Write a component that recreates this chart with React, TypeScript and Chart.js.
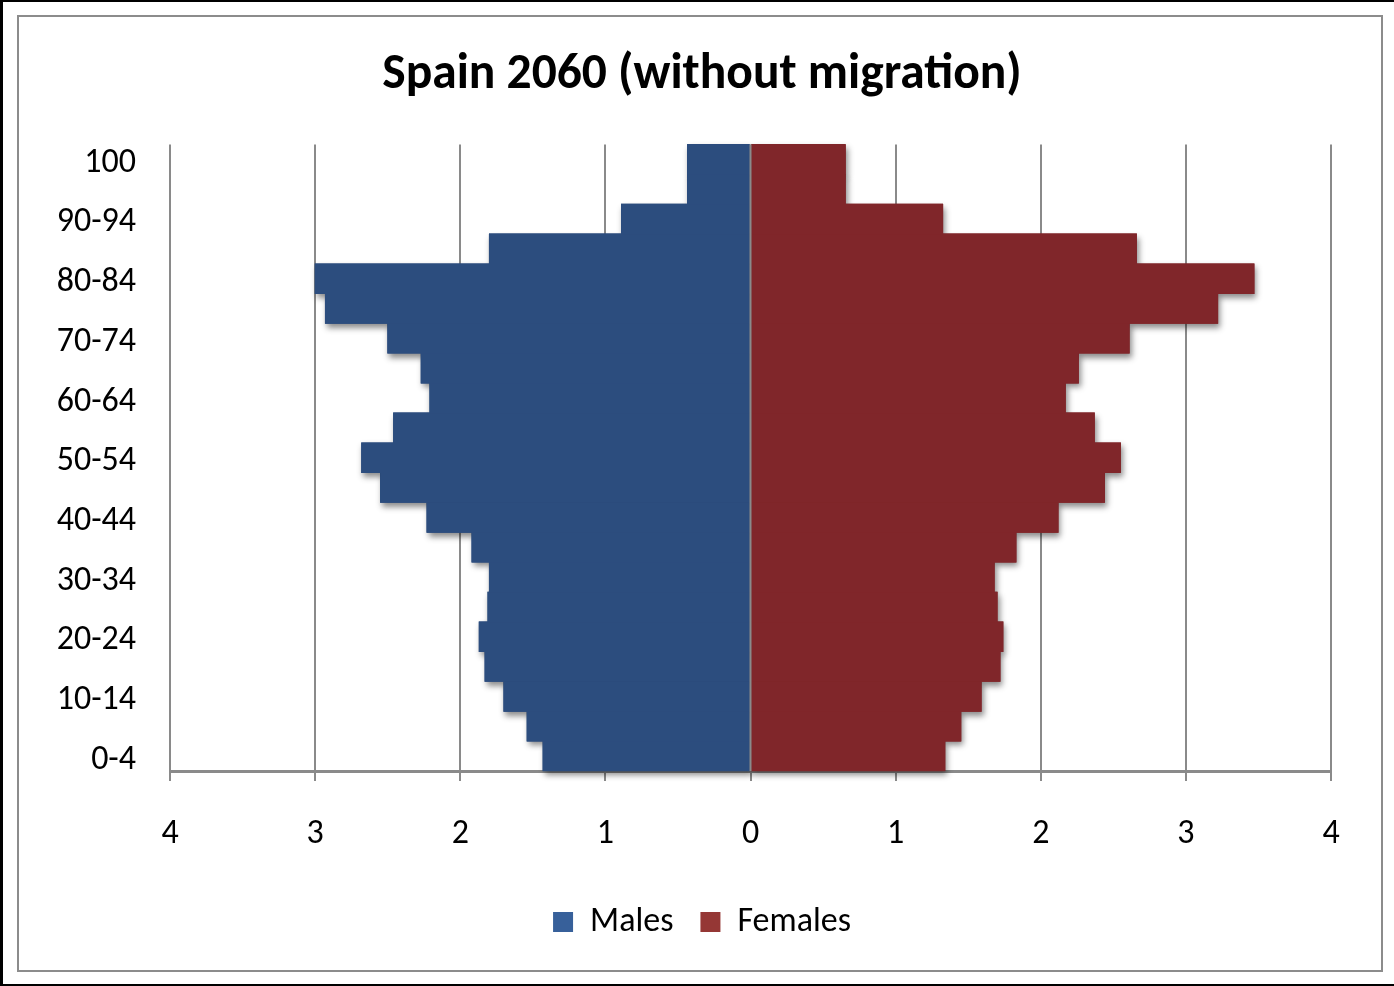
import React, { useEffect, useRef } from 'react';
import { Chart, registerables } from 'chart.js';

Chart.register(...registerables);

const ageGroups = ['0-4', '5-9', '10-14', '15-19', '20-24', '25-29', '30-34', '35-39', '40-44', '45-49', '50-54', '55-59', '60-64', '65-69', '70-74', '75-79', '80-84', '85-89', '90-94', '95-99', '100'];
const males = [1.43, 1.54, 1.70, 1.83, 1.87, 1.81, 1.80, 1.92, 2.23, 2.55, 2.68, 2.46, 2.21, 2.27, 2.50, 2.93, 3.00, 1.80, 0.89, 0.435, 0.435];
const females = [1.34, 1.45, 1.59, 1.72, 1.74, 1.70, 1.68, 1.83, 2.12, 2.44, 2.55, 2.37, 2.17, 2.26, 2.61, 3.22, 3.47, 2.66, 1.325, 0.654, 0.654];
const seriesNames = ['Males', 'Females'];
const barColors = ['#2C4D7E', '#80262A'];
const legendColors = ['#37609A', '#953735'];
const titleText = 'Spain 2060 (without migration)';
const xMin = -4;
const xMax = 4;

const FONT = 'Carlito, Lato, "Liberation Sans", sans-serif';
const GRID = '#8a8a8a';

const shadowPlugin = {
  id: 'barShadow',
  beforeDatasetsDraw(chart: any) {
    const ctx = chart.ctx;
    ctx.save();
    ctx.shadowColor = 'rgba(0,0,0,0.45)';
    ctx.shadowBlur = 6;
    ctx.shadowOffsetX = 2;
    ctx.shadowOffsetY = 4;
    chart.data.datasets.forEach((_: any, i: number) => {
      const meta = chart.getDatasetMeta(i);
      if (!meta.hidden) meta.data.forEach((el: any) => el.draw(ctx));
    });
    ctx.restore();
  },
};

const zeroLinePlugin = {
  id: 'zeroLine',
  afterDatasetsDraw(chart: any) {
    const { ctx, chartArea, scales } = chart;
    const x = scales.x.getPixelForValue(0);
    ctx.save();
    ctx.strokeStyle = GRID;
    ctx.lineWidth = 2;
    ctx.beginPath();
    ctx.moveTo(x, chartArea.top);
    ctx.lineTo(x, chartArea.bottom);
    ctx.stroke();
    ctx.restore();
  },
};

export default function App() {
  const ref = useRef<HTMLCanvasElement>(null);

  useEffect(() => {
    if (!ref.current) return;
    const chart = new Chart(ref.current, {
      type: 'bar',
      data: {
        labels: ageGroups,
        datasets: [
          { label: seriesNames[0], data: males.map((v) => -v), backgroundColor: barColors[0], borderWidth: 0 },
          { label: seriesNames[1], data: females, backgroundColor: barColors[1], borderWidth: 0 },
        ],
      },
      options: {
        indexAxis: 'y',
        responsive: false,
        animation: false,
        devicePixelRatio: 1,
        layout: { padding: { left: 10, right: 0, top: 0, bottom: 37 } },
        datasets: { bar: { barPercentage: 1, categoryPercentage: 1 } },
        scales: {
          x: {
            stacked: true,
            min: xMin,
            max: xMax,
            ticks: {
              stepSize: 1,
              callback: (v: any) => String(Math.abs(Number(v))),
              font: { family: FONT, size: 34 },
              color: '#000',
              padding: 33,
            },
            grid: { color: GRID, lineWidth: 2, tickLength: 10, drawTicks: true },
            border: { display: true, color: GRID, width: 3 },
            afterFit: (s: any) => {
              s.height = 107;
            },
          },
          y: {
            stacked: true,
            reverse: true,
            grid: { display: false, drawTicks: false },
            border: { display: false },
            ticks: {
              autoSkip: false,
              callback: (_v: any, i: number) => (i % 2 === 0 ? ageGroups[i] : ''),
              font: { family: FONT, size: 34 },
              color: '#000',
              padding: 34,
              labelOffset: 4,
            },
            afterFit: (s: any) => {
              s.width = 160;
            },
          },
          yRightSpace: {
            type: 'linear',
            position: 'right',
            display: true,
            grid: { display: false, drawTicks: false },
            border: { display: false },
            ticks: { display: false },
            afterFit: (s: any) => {
              s.width = 63;
            },
          },
        },
        plugins: {
          title: {
            display: true,
            text: titleText,
            font: { family: FONT, size: 49.5, weight: 'bold' },
            color: '#000',
            padding: { top: 46, bottom: 39 },
          },
          legend: {
            position: 'bottom',
            labels: {
              boxWidth: 20,
              boxHeight: 20,
              padding: 27,
              color: '#000',
              font: { family: FONT, size: 34 },
              generateLabels: (c: any) =>
                Chart.defaults.plugins.legend.labels.generateLabels(c).map((l: any, i: number) => ({
                  ...l,
                  fillStyle: legendColors[i],
                  strokeStyle: legendColors[i],
                  lineWidth: 0,
                })),
            },
          },
          tooltip: { enabled: false },
        },
      } as any,
      plugins: [shadowPlugin, zeroLinePlugin],
    });
    return () => chart.destroy();
  }, []);

  return (
    <div style={{ position: 'absolute', left: 0, top: 0, width: 1394, height: 986, background: '#fff' }}>
      <canvas ref={ref} width={1394} height={986} style={{ position: 'absolute', left: 0, top: 0, width: 1394, height: 986 }} />
      <div
        style={{
          position: 'absolute', left: 17, top: 15, width: 1366, height: 957,
          border: '2px solid #8c8c8c', boxSizing: 'border-box', pointerEvents: 'none',
        }}
      />
      <div
        style={{
          position: 'absolute', left: 0, top: 0, width: 1394, height: 986,
          borderLeft: '3px solid #000', borderTop: '2px solid #000', borderBottom: '2px solid #000',
          boxSizing: 'border-box', pointerEvents: 'none',
        }}
      />
    </div>
  );
}
